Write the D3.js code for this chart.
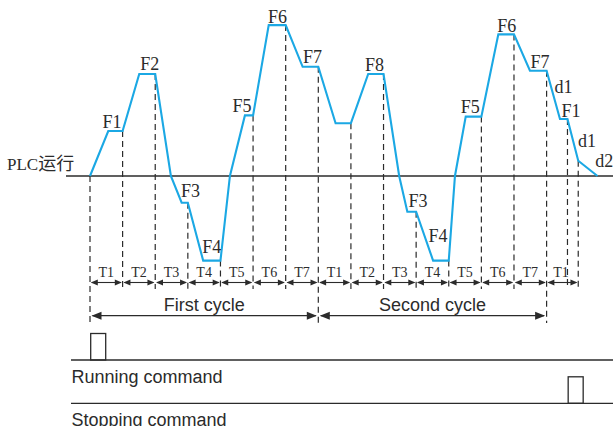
<!DOCTYPE html>
<html>
<head>
<meta charset="utf-8">
<script src="https://cdn.jsdelivr.net/npm/d3@7/dist/d3.min.js"></script>
<style>
  html, body { margin: 0; padding: 0; background: #fff; }
  svg { display: block; }
</style>
</head>
<body>
<svg id="chart" width="613" height="426"></svg>
<script>
// Output frequency profile of the PLC multi-speed program (time in step units T, frequency in Hz)
const curveT = [0, 0.56, 1, 1.51, 2, 2.48, 2.81, 3, 3.47, 4, 4.29, 4.75, 5, 5.48, 6, 6.52, 7,
                7.53, 8, 8.53, 9, 9.48, 9.73, 10, 10.52, 11, 11.19, 11.52, 12, 12.52, 13, 13.49, 14,
                14.41, 14.64, 14.97, 15.56];
const curveF = [0, 15, 15, 34, 34, 0, -8.9, -8.9, -28.2, -28.2, 0, 20.2, 20.2, 50.3, 50.3, 36.4, 36.4,
                17.6, 17.6, 34, 34, 0, -11.9, -11.9, -28.2, -28.2, 0, 19.8, 19.8, 47.2, 47.2, 35.1, 35.1,
                19, 19, 5.1, 0];

// Step boundaries and the step names between them
const boundaries = [0, 1, 2, 3, 4, 5, 6, 7, 8, 9, 10, 11, 12, 13, 14, 14.64, 14.97];
const stepLabels = ["T1", "T2", "T3", "T4", "T5", "T6", "T7",
                    "T1", "T2", "T3", "T4", "T5", "T6", "T7", "T1"];
const stepStart = [0, 1, 2, 3, 4, 5, 6, 7, 8, 9, 10, 11, 12, 13, 14];
const stepEnd   = [1, 2, 3, 4, 5, 6, 7, 8, 9, 10, 11, 12, 13, 14, 14.97];

// Cycles
const cycleNames = ["First cycle", "Second cycle"];
const cycleStart = [0, 7];
const cycleEnd = [7, 14];

// Frequency tags placed beside each segment (position in step time / Hz)
const tagText = ["F1", "F2", "F3", "F4", "F5", "F6", "F7", "F8", "F3", "F4", "F5", "F6", "F7", "d1", "F1", "d1", "d2"];
const tagT = [0.674, 1.83, 3.08, 3.73, 4.66, 5.75, 6.82, 8.72, 10.06, 10.67, 11.66, 12.78, 13.80, 14.52, 14.75, 15.24, 15.77];
const tagF = [16.1, 35.2, -6.9, -25.8, 21.2, 50.9, 37.6, 35, -10.2, -22.1, 20.9, 47.9, 35.9, 27.6, 19.8, 9.8, 3.1];

// Command pulses (start / end in step time)
const runPulse = [0, 0.46];
const stopPulse = [14.64, 15.1];

const svg = d3.select("#chart");
const ink = "#2b2b2b";
const blue = "#1ba8e4";
const serif = "'Liberation Serif', 'Times New Roman', serif";
const sans = "'Liberation Sans', Arial, sans-serif";

const x = d3.scaleLinear().domain([0, 14]).range([90, 546.6]);
const y = d3.scaleLinear().domain([0, 50]).range([176, 26]);

const stepArrowY = 282.5;
const cycleArrowY = 315.7;
const runLineY = 360;
const stopLineY = 403.3;
const pulseH = 26.5;

function fAt(t) {
  const i = d3.bisectLeft(curveT, t);
  if (i <= 0) return curveF[0];
  if (i >= curveT.length) return curveF[curveF.length - 1];
  const t0 = curveT[i - 1], t1 = curveT[i];
  if (t1 === t) return curveF[i];
  return curveF[i - 1] + (curveF[i] - curveF[i - 1]) * (t - t0) / (t1 - t0);
}

// Double-headed arrow between two x positions
function arrow(g, x1, x2, yy, len, half, sw) {
  g.append("line").attr("x1", x1 + 1).attr("x2", x2 - 1).attr("y1", yy).attr("y2", yy)
    .attr("stroke", ink).attr("stroke-width", sw);
  g.append("path").attr("d", `M${x1},${yy}L${x1 + len},${yy - half}L${x1 + len},${yy + half}Z`).attr("fill", ink);
  g.append("path").attr("d", `M${x2},${yy}L${x2 - len},${yy - half}L${x2 - len},${yy + half}Z`).attr("fill", ink);
}

// Zero line
svg.append("line")
  .attr("x1", 66).attr("x2", 613).attr("y1", y(0)).attr("y2", y(0))
  .attr("stroke", ink).attr("stroke-width", 1.3);

svg.append("text")
  .attr("x", 7).attr("y", 169.5)
  .attr("fill", ink)
  .style("font-family", serif).style("font-size", "17px")
  .html(`PLC<tspan style="font-family:'Noto Sans CJK SC';font-size:18px">运行</tspan>`);

// Dashed step boundaries dropping from the curve
const cycleMarks = new Set([0, 7, 14]);
svg.append("g").selectAll("line").data(boundaries).join("line")
  .attr("x1", d => x(d)).attr("x2", d => x(d))
  .attr("y1", d => y(fAt(d)))
  .attr("y2", d => cycleMarks.has(d) ? 323 : 289)
  .attr("stroke", ink).attr("stroke-width", 1.2)
  .attr("stroke-dasharray", "6,4");

// Frequency curve
const line = d3.line().x((d, i) => x(curveT[i])).y((d, i) => y(curveF[i]));
svg.append("path")
  .datum(curveF)
  .attr("d", line)
  .attr("fill", "none")
  .attr("stroke", blue)
  .attr("stroke-width", 2.1)
  .attr("stroke-linejoin", "miter");

// Frequency tags
svg.append("g").selectAll("text").data(tagText).join("text")
  .attr("x", (d, i) => x(tagT[i]))
  .attr("y", (d, i) => y(tagF[i]))
  .attr("text-anchor", "middle")
  .attr("fill", ink)
  .style("font-family", serif).style("font-size", "18px")
  .text(d => d);

// Step arrows and names
const steps = svg.append("g");
stepLabels.forEach((name, i) => {
  const a = x(stepStart[i]), b = x(stepEnd[i]);
  arrow(steps, a + 0.8, b - 0.8, stepArrowY, 7, 3, 1.1);
  steps.append("text")
    .attr("x", (a + b) / 2 - (i === stepLabels.length - 1 ? 1.5 : 0))
    .attr("y", 276.7)
    .attr("text-anchor", "middle")
    .attr("fill", ink)
    .style("font-family", serif).style("font-size", "14px")
    .text(name);
});

// Cycle arrows and names
const cycles = svg.append("g");
cycleNames.forEach((name, i) => {
  const a = x(cycleStart[i]), b = x(cycleEnd[i]);
  arrow(cycles, a + 1.5, b - 1.5, cycleArrowY, 10, 4, 1.2);
  cycles.append("text")
    .attr("x", (a + b) / 2)
    .attr("y", 310.5)
    .attr("text-anchor", "middle")
    .attr("fill", ink)
    .style("font-family", sans).style("font-size", "18px")
    .text(name);
});

// Command signals
const cmd = svg.append("g");
[[runLineY, runPulse, "Running command", 383.3], [stopLineY, stopPulse, "Stopping command", 425.5]]
  .forEach(([ly, pulse, label, ty]) => {
    cmd.append("line").attr("x1", 71).attr("x2", 613).attr("y1", ly).attr("y2", ly)
      .attr("stroke", ink).attr("stroke-width", 1.3);
    cmd.append("rect")
      .attr("x", x(pulse[0]) + 0.7).attr("y", ly - pulseH)
      .attr("width", x(pulse[1]) - x(pulse[0])).attr("height", pulseH)
      .attr("fill", "none").attr("stroke", ink).attr("stroke-width", 1.3);
    cmd.append("text")
      .attr("x", 71.5).attr("y", ty)
      .attr("fill", ink)
      .style("font-family", sans).style("font-size", "18px")
      .text(label);
  });
</script>
</body>
</html>
